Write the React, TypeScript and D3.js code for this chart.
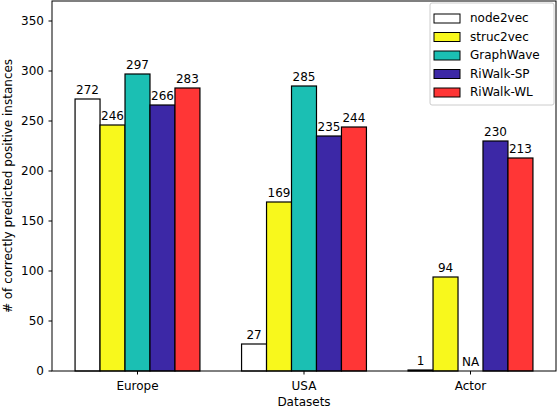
import React from 'react'
import * as d3 from 'd3'

const datasets = ['Europe', 'USA', 'Actor']
const methods = ['node2vec', 'struc2vec', 'GraphWave', 'RiWalk-SP', 'RiWalk-WL']
const methodColors = ['#ffffff', '#f8f81c', '#1bbfb3', '#3c28a6', '#ff3636']

// values per method, one entry per dataset (null = not available)
const node2vecVals = [272, 27, 1]
const struc2vecVals = [246, 169, 94]
const graphWaveVals: (number | null)[] = [297, 285, null]
const riwalkSpVals = [266, 235, 230]
const riwalkWlVals = [283, 244, 213]
const seriesValues = [node2vecVals, struc2vecVals, graphWaveVals, riwalkSpVals, riwalkWlVals]

const yTicks = [0, 50, 100, 150, 200, 250, 300, 350]

const W = 558
const H = 408
const margin = { top: 1, right: 2, bottom: 37, left: 52 }
const FONT = 'DejaVu Sans, sans-serif'

export default function App() {
  const innerW = W - margin.left - margin.right
  const innerH = H - margin.top - margin.bottom

  const x = d3.scaleLinear().domain([-0.5135, 2.5135]).range([0, innerW])
  const y = d3.scaleLinear().domain([0, 370]).range([innerH, 0])
  const barW = x(0.15) - x(0)

  const bars: React.ReactNode[] = []
  const labels: React.ReactNode[] = []
  seriesValues.forEach((vals, si) => {
    vals.forEach((v, di) => {
      const x0 = x(di + (si - 2.5) * 0.15)
      const cx = x0 + barW / 2
      if (v === null) {
        labels.push(
          <text key={`l${si}-${di}`} x={cx} y={y(0) - 5} textAnchor="middle" fontSize={12}>NA</text>
        )
        return
      }
      bars.push(
        <rect key={`b${si}-${di}`} x={x0} y={y(v)} width={barW} height={y(0) - y(v)}
          fill={methodColors[si]} stroke="#000" strokeWidth={1.2} />
      )
      labels.push(
        <text key={`l${si}-${di}`} x={cx} y={y(v) - 5} textAnchor="middle" fontSize={12}>{v}</text>
      )
    })
  })

  return (
    <svg width={W} height={H} style={{ position: 'absolute', left: 0, top: 0, background: '#fff', fontFamily: FONT }}>
      <g transform={`translate(${margin.left},${margin.top})`}>
        {bars}
        {labels}
        {/* frame */}
        <rect x={0} y={0} width={innerW} height={innerH} fill="none" stroke="#000" strokeWidth={1} />
        {/* y ticks */}
        {yTicks.map(t => (
          <g key={t} transform={`translate(0,${y(t)})`}>
            <line x1={-3.5} x2={0} stroke="#000" />
            <text x={-8} dy="0.35em" textAnchor="end" fontSize={12}>{t}</text>
          </g>
        ))}
        {/* x ticks */}
        {datasets.map((d, i) => (
          <g key={d} transform={`translate(${x(i)},${innerH})`}>
            <line y1={0} y2={3.5} stroke="#000" />
            <text y={19} textAnchor="middle" fontSize={12}>{d}</text>
          </g>
        ))}
        <text x={innerW / 2} y={innerH + 35} textAnchor="middle" fontSize={12}>Datasets</text>
        <text transform={`translate(${-40},${innerH / 2}) rotate(-90)`} textAnchor="middle" fontSize={12}>
          # of correctly predicted positive instances
        </text>
        {/* legend */}
        <g transform={`translate(${430 - margin.left},${3 - margin.top})`}>
          <rect x={0} y={0} width={124} height={102} rx={2} fill="#fff" fillOpacity={0.8} stroke="#ccc" />
          {methods.map((m, i) => (
            <g key={m} transform={`translate(0,${15 + i * 18.5})`}>
              <rect x={4} y={-4} width={26} height={9} fill={methodColors[i]} stroke="#000" strokeWidth={1} />
              <text x={40} dy="0.35em" fontSize={12}>{m}</text>
            </g>
          ))}
        </g>
      </g>
    </svg>
  )
}
